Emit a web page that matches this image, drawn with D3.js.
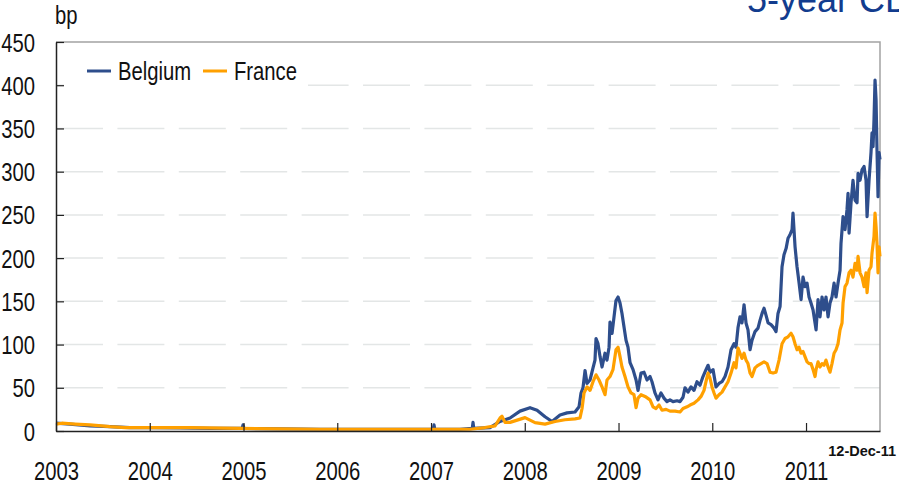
<!DOCTYPE html>
<html>
<head>
<meta charset="utf-8">
<script src="https://cdn.jsdelivr.net/npm/d3@7"></script>
<style>
  body { margin: 0; background: #fff; overflow: hidden; }
  text { font-family: "Liberation Sans", Arial, sans-serif; }
</style>
</head>
<body>
<div id="chart"></div>
<script>
// years on the axis, and the last data date
const years = [2003, 2004, 2005, 2006, 2007, 2008, 2009, 2010, 2011];
const yTicks = [0, 50, 100, 150, 200, 250, 300, 350, 400, 450];
const lastDate = "12-Dec-11";

// 5-year CDS spreads in bp, [axis year, value]
const belgium = [
  [2003.000, 9], [2003.149, 8], [2003.363, 6], [2003.576, 5], [2003.789, 4], [2004.003, 4],
  [2004.323, 3.5], [2004.643, 3], [2004.985, 3], [2004.995, 7], [2005.005, 3], [2005.389, 2.5],
  [2005.816, 2], [2006.243, 2], [2006.669, 2], [2007.024, 2], [2007.032, 7], [2007.040, 2],
  [2007.309, 2], [2007.440, 3], [2007.448, 10], [2007.456, 3], [2007.629, 4], [2007.736, 11], [2007.843, 15],
  [2007.949, 23], [2008.056, 27], [2008.131, 24], [2008.216, 16.5], [2008.291, 11], [2008.376, 18.5],
  [2008.451, 21], [2008.536, 22], [2008.579, 28], [2008.600, 44], [2008.621, 50], [2008.643, 70],
  [2008.664, 55], [2008.696, 59], [2008.728, 73], [2008.749, 82], [2008.760, 107], [2008.781, 101],
  [2008.803, 86], [2008.824, 74], [2008.856, 90], [2008.877, 82], [2008.899, 97], [2008.909, 126],
  [2008.931, 113], [2008.952, 132], [2008.973, 151], [2008.995, 155], [2009.016, 148], [2009.037, 136],
  [2009.059, 120], [2009.080, 105], [2009.101, 97], [2009.123, 79], [2009.155, 71], [2009.187, 59],
  [2009.208, 47], [2009.240, 67], [2009.272, 68], [2009.304, 59], [2009.336, 63], [2009.357, 57],
  [2009.389, 44], [2009.421, 36], [2009.453, 44], [2009.485, 38], [2009.517, 34], [2009.549, 36],
  [2009.581, 34], [2009.624, 35], [2009.656, 34], [2009.688, 39], [2009.709, 50], [2009.741, 45],
  [2009.773, 51], [2009.805, 47], [2009.837, 57], [2009.869, 53], [2009.901, 63], [2009.933, 71],
  [2009.955, 76], [2009.976, 68], [2010.008, 71], [2010.040, 51], [2010.072, 55], [2010.104, 57],
  [2010.136, 63], [2010.168, 74], [2010.200, 94], [2010.232, 101], [2010.253, 97], [2010.275, 120],
  [2010.296, 132], [2010.317, 125], [2010.339, 146], [2010.360, 125], [2010.381, 117], [2010.403, 94],
  [2010.424, 105], [2010.456, 115], [2010.488, 119], [2010.509, 128], [2010.531, 136], [2010.552, 142],
  [2010.573, 134], [2010.595, 125], [2010.627, 123], [2010.659, 119], [2010.680, 115], [2010.701, 136],
  [2010.723, 144], [2010.744, 190], [2010.765, 204], [2010.787, 211], [2010.808, 223], [2010.829, 227],
  [2010.851, 233], [2010.861, 252], [2010.883, 213], [2010.904, 190], [2010.925, 172], [2010.947, 152],
  [2010.968, 178], [2010.989, 167], [2011.011, 171], [2011.032, 155], [2011.053, 148], [2011.075, 140],
  [2011.096, 125], [2011.107, 117], [2011.128, 152], [2011.149, 132], [2011.171, 155], [2011.192, 140],
  [2011.213, 155], [2011.235, 132], [2011.256, 148], [2011.277, 155], [2011.299, 171], [2011.320, 155],
  [2011.341, 171], [2011.363, 186], [2011.373, 217], [2011.395, 248], [2011.416, 233], [2011.437, 256],
  [2011.448, 275], [2011.459, 229], [2011.480, 264], [2011.501, 290], [2011.523, 267], [2011.544, 264],
  [2011.555, 298], [2011.576, 290], [2011.597, 302], [2011.619, 306], [2011.640, 290], [2011.651, 248],
  [2011.672, 290], [2011.693, 322], [2011.704, 345], [2011.715, 329], [2011.725, 360], [2011.736, 406],
  [2011.747, 383], [2011.757, 325], [2011.768, 271], [2011.779, 322], [2011.789, 314]
];

const france = [
  [2003.000, 8], [2003.064, 9], [2003.203, 8], [2003.363, 7], [2003.576, 5], [2003.736, 4],
  [2004.003, 4], [2004.429, 4], [2004.963, 3], [2005.389, 2.5], [2005.816, 2], [2006.669, 2],
  [2007.416, 2], [2007.576, 4], [2007.683, 6], [2007.736, 15], [2007.757, 17], [2007.789, 10],
  [2007.843, 10], [2008.003, 15.5], [2008.109, 9.6], [2008.216, 8], [2008.323, 11], [2008.429, 13],
  [2008.536, 14], [2008.589, 15], [2008.611, 26], [2008.632, 44], [2008.664, 51], [2008.696, 47],
  [2008.728, 57], [2008.760, 65], [2008.792, 59], [2008.824, 51], [2008.856, 42], [2008.877, 59],
  [2008.909, 63], [2008.941, 71], [2008.973, 94], [2008.995, 97], [2009.016, 86], [2009.037, 74],
  [2009.069, 63], [2009.101, 51], [2009.133, 44], [2009.165, 42], [2009.187, 27], [2009.208, 38],
  [2009.240, 42], [2009.283, 40], [2009.336, 36], [2009.368, 28], [2009.400, 26], [2009.432, 30],
  [2009.464, 24], [2009.507, 25], [2009.549, 23], [2009.603, 23], [2009.656, 22], [2009.688, 26],
  [2009.731, 28], [2009.763, 30], [2009.805, 32], [2009.848, 36], [2009.880, 40], [2009.912, 47],
  [2009.933, 57], [2009.955, 67], [2009.976, 61], [2009.997, 51], [2010.019, 44], [2010.040, 38],
  [2010.072, 42], [2010.104, 45], [2010.136, 51], [2010.168, 57], [2010.200, 67], [2010.232, 79],
  [2010.253, 73], [2010.275, 96], [2010.296, 90], [2010.317, 84], [2010.339, 90], [2010.360, 82],
  [2010.381, 78], [2010.403, 67], [2010.424, 63], [2010.456, 73], [2010.488, 76], [2010.520, 78],
  [2010.552, 80], [2010.584, 78], [2010.616, 68], [2010.648, 67], [2010.680, 68], [2010.712, 82],
  [2010.744, 101], [2010.776, 107], [2010.808, 109], [2010.840, 113], [2010.861, 109], [2010.883, 101],
  [2010.904, 94], [2010.925, 97], [2010.947, 90], [2010.968, 92], [2010.989, 86], [2011.011, 80],
  [2011.032, 78], [2011.053, 78], [2011.075, 71], [2011.096, 63], [2011.107, 71], [2011.128, 80],
  [2011.149, 74], [2011.171, 78], [2011.192, 76], [2011.213, 82], [2011.235, 74], [2011.256, 68],
  [2011.277, 78], [2011.299, 90], [2011.320, 94], [2011.341, 101], [2011.363, 117], [2011.384, 125],
  [2011.395, 148], [2011.416, 167], [2011.437, 171], [2011.459, 183], [2011.480, 186], [2011.501, 178],
  [2011.523, 194], [2011.544, 186], [2011.555, 202], [2011.576, 183], [2011.597, 178], [2011.619, 167],
  [2011.640, 183], [2011.651, 160], [2011.672, 186], [2011.693, 190], [2011.704, 206], [2011.725, 225],
  [2011.736, 252], [2011.747, 236], [2011.757, 217], [2011.768, 183], [2011.779, 213], [2011.789, 202]
];

const width = 899;
const height = 487;
const margin = {top: 42, right: 19, bottom: 56, left: 56};
const blue = "#2e4e8c";
const orange = "#ffa000";
const narrow = 0.81; // the slide uses a condensed face

const svg = d3.select("#chart").append("svg")
    .attr("width", width)
    .attr("height", height);

const x = d3.scaleLinear()
    .domain([2003, 2011.789])
    .range([margin.left, width - margin.right]);

const y = d3.scaleLinear()
    .domain([0, 450])
    .range([height - margin.bottom, margin.top]);

// squeeze a text horizontally around its own anchor point
function condense(sel, tx, ty) {
    sel.attr("x", 0).attr("y", 0)
        .attr("transform", `translate(${tx},${ty}) scale(${narrow},1)`)
        .style("font-size", "25px")
        .attr("fill", "#111");
}

// title (cut off at the right edge, as in the slide)
svg.append("text")
    .attr("x", 747)
    .attr("y", 12)
    .attr("fill", "#123c8e")
    .style("font-size", "36px")
    .text("5-year CDS spreads");

// dashed grid
svg.append("g")
    .selectAll("line")
    .data(yTicks.filter(d => d > 0 && d < 450))
    .join("line")
    .attr("x1", margin.left)
    .attr("x2", width - margin.right)
    .attr("y1", d => y(d))
    .attr("y2", d => y(d))
    .attr("stroke", "#e3e6e6")
    .attr("stroke-width", 1.5)
    .attr("stroke-dasharray", "47,14.4");

// frame top and right
svg.append("path")
    .attr("d", `M${margin.left},${y(450)}H${x(2011.789)}V${y(0)}`)
    .attr("fill", "none")
    .attr("stroke", "#a3a3a3")
    .attr("stroke-width", 1.5);

const line = d3.line()
    .x(d => x(d[0]))
    .y(d => y(d[1]));

svg.append("path")
    .datum(belgium)
    .attr("d", line)
    .attr("fill", "none")
    .attr("stroke", blue)
    .attr("stroke-width", 3.2)
    .attr("stroke-linejoin", "round");

svg.append("path")
    .datum(france)
    .attr("d", line)
    .attr("fill", "none")
    .attr("stroke", orange)
    .attr("stroke-width", 3.2)
    .attr("stroke-linejoin", "round");

// axes
const yAxis = svg.append("g")
    .attr("transform", `translate(${margin.left},0)`)
    .call(d3.axisLeft(y).tickValues(yTicks).tickSizeInner(-8).tickSizeOuter(0));

const xAxis = svg.append("g")
    .attr("transform", `translate(0,${y(0)})`)
    .call(d3.axisBottom(x).tickValues(years).tickFormat(d3.format("d"))
        .tickSizeInner(-8).tickSizeOuter(0));

[yAxis, xAxis].forEach(g => {
    g.attr("font-family", null).attr("font-size", null);
    g.select(".domain").attr("stroke", "#222").attr("stroke-width", 1.5);
    g.selectAll(".tick line").attr("stroke", "#222").attr("stroke-width", 1.2);
});
yAxis.selectAll(".tick text").attr("dy", null).call(condense, -21, 9);
xAxis.selectAll(".tick text").attr("dy", null).call(condense, 0, 49);

svg.append("text")
    .text("bp")
    .call(condense, 55, 24);

svg.append("text")
    .attr("x", 896)
    .attr("y", 456)
    .attr("text-anchor", "end")
    .attr("fill", "#111")
    .style("font-size", "14.5px")
    .style("font-weight", "bold")
    .text(lastDate);

// legend
const legend = svg.append("g");
legend.append("rect")
    .attr("x", 64).attr("y", 52)
    .attr("width", 244).attr("height", 40)
    .attr("fill", "#fff");

const items = [{name: "Belgium", color: blue, x0: 87}, {name: "France", color: orange, x0: 203}];
const item = legend.selectAll("g.item")
    .data(items)
    .join("g")
    .attr("transform", d => `translate(${d.x0},71)`);
item.append("line")
    .attr("x1", 0).attr("x2", 24)
    .attr("stroke", d => d.color)
    .attr("stroke-width", 3);
item.append("text")
    .text(d => d.name)
    .call(condense, 31, 9);
</script>
</body>
</html>
